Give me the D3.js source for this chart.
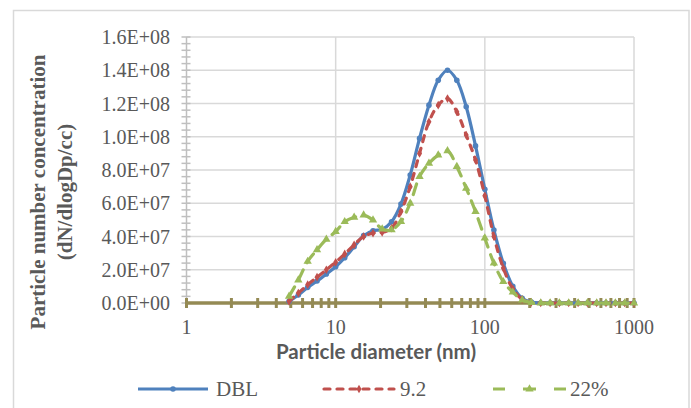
<!DOCTYPE html>
<html>
<head>
<meta charset="utf-8">
<script src="https://cdn.jsdelivr.net/npm/d3@7"></script>
<style>
  html, body { margin: 0; padding: 0; background: #fff; }
  svg { display: block; }
</style>
</head>
<body>
<svg id="chart" width="691" height="408"></svg>
<script>
// ---- data (values in particles/cc) ----
const diameters = [4.87, 5.62, 6.49, 7.50, 8.66, 10.0, 11.5, 13.3, 15.4, 17.8, 20.5, 23.7, 27.4, 31.6, 36.5, 42.2, 48.7, 56.2, 64.9, 75.0, 86.6, 100, 115, 133, 154, 178, 205, 237, 274, 316, 365, 422, 487, 562, 649, 750, 866, 1000];
const seriesNames = ["DBL", "9.2", "22%"];
const dblValues = [0.1, 0.48, 0.94, 1.32, 1.74, 2.18, 2.72, 3.39, 4.05, 4.35, 4.43, 4.89, 5.95, 7.7, 9.9, 11.9, 13.4, 14.0, 13.4, 11.8, 9.45, 6.84, 4.39, 2.39, 1.0, 0.28, 0.05, 0, 0, 0, 0, 0, 0, 0, 0, 0, 0, 0].map(v => v * 1e7);
const b92Values = [0.1, 0.6, 1.1, 1.55, 2.0, 2.45, 2.95, 3.5, 4.0, 4.2, 4.25, 4.5, 5.5, 7.0, 9.0, 10.9, 11.9, 12.3, 11.5, 10.1, 8.6, 6.45, 4.0, 2.1, 0.85, 0.22, 0.04, 0, 0, 0, 0, 0, 0, 0, 0, 0, 0, 0].map(v => v * 1e7);
const b22Values = [0.4, 1.38, 2.5, 3.2, 3.83, 4.29, 4.89, 5.15, 5.29, 4.99, 4.45, 4.4, 4.9, 6.0, 7.6, 8.4, 8.9, 9.15, 8.2, 6.9, 5.5, 3.9, 2.4, 1.28, 0.65, 0.18, 0.03, 0, 0, 0, 0, 0, 0, 0, 0, 0, 0, 0].map(v => v * 1e7);
const xTicks = [1, 10, 100, 1000];
const yTicks = [0, 2e7, 4e7, 6e7, 8e7, 1e8, 1.2e8, 1.4e8, 1.6e8];

// ---- layout ----
const svg = d3.select("#chart");
const pL = 186.5, pR = 634, pT = 37, pB = 303;
const x = d3.scaleLog().domain([1, 1000]).range([pL, pR]);
const y = d3.scaleLinear().domain([0, 1.6e8]).range([pB, pT]);

const colors = ["#4F81BD", "#C0504D", "#9BBB59"];
const serif = "'Liberation Serif', 'Times New Roman', serif";
const textGray = "#595959";

// chart border
svg.append("rect").attr("x", 13.5).attr("y", 10.5).attr("width", 675.5).attr("height", 410)
  .attr("fill", "none").attr("stroke", "#D9D9D9").attr("stroke-width", 1.5);

// horizontal gridlines
svg.append("g").selectAll("line").data(yTicks.filter(d => d > 0)).join("line")
  .attr("x1", pL).attr("x2", pR)
  .attr("y1", d => y(d)).attr("y2", d => y(d))
  .attr("stroke", "#D9D9D9").attr("stroke-width", 1.5);
// vertical gridlines
svg.append("g").selectAll("line").data(xTicks.filter(d => d > 1)).join("line")
  .attr("x1", d => x(d)).attr("x2", d => x(d))
  .attr("y1", pT).attr("y2", pB)
  .attr("stroke", "#D9D9D9").attr("stroke-width", 1.5);

// y axis line with minor cross ticks
const yMinor = d3.range(0, 1.6e8 + 1, 4e6);
svg.append("line").attr("x1", pL).attr("x2", pL).attr("y1", pT).attr("y2", pB)
  .attr("stroke", "#BFBFBF").attr("stroke-width", 1.5);
svg.append("g").selectAll("line").data(yMinor).join("line")
  .attr("x1", pL - 5).attr("x2", pL + 4)
  .attr("y1", d => y(d)).attr("y2", d => y(d))
  .attr("stroke", "#BFBFBF").attr("stroke-width", 1.5);

// y tick labels
function sci(v) {
  if (v === 0) return "0.0E+00";
  const e = Math.floor(Math.log10(v) + 1e-9);
  const m = v / Math.pow(10, e);
  return m.toFixed(1) + "E+" + String(e).padStart(2, "0");
}
svg.append("g").selectAll("text").data(yTicks).join("text")
  .attr("x", 170).attr("y", d => y(d)).attr("dy", "0.35em")
  .attr("text-anchor", "end")
  .attr("font-family", serif).attr("font-size", 20).attr("fill", textGray)
  .text(sci);

// x axis (olive, thick, with minor cross ticks)
const xMinor = [];
[1, 10, 100].forEach(dec => { for (let k = 1; k <= 9; k++) xMinor.push(dec * k); });
xMinor.push(1000);
svg.append("line").attr("x1", pL).attr("x2", pR).attr("y1", pB).attr("y2", pB)
  .attr("stroke", "#948A54").attr("stroke-width", 3.5);
svg.append("g").selectAll("line").data(xMinor).join("line")
  .attr("x1", d => x(d)).attr("x2", d => x(d))
  .attr("y1", pB - 5).attr("y2", pB + 5)
  .attr("stroke", "#948A54").attr("stroke-width", 3);

// x tick labels
svg.append("g").selectAll("text").data(xTicks).join("text")
  .attr("x", d => x(d)).attr("y", 334)
  .attr("text-anchor", "middle")
  .attr("font-family", serif).attr("font-size", 20).attr("fill", textGray)
  .text(d => String(d));

// axis titles
svg.append("text").attr("x", 376).attr("y", 359).attr("text-anchor", "middle")
  .attr("font-family", "Lato, 'Open Sans', sans-serif").attr("font-weight", "bold")
  .attr("font-size", 20.5).attr("fill", textGray).text("Particle diameter (nm)");
const yt = svg.append("text").attr("transform", "translate(38,192) rotate(-90)")
  .attr("text-anchor", "middle").attr("font-family", serif).attr("font-weight", "bold")
  .attr("font-size", 21).attr("fill", textGray);
yt.append("tspan").attr("x", 0).attr("dy", "0.35em").text("Particle number concentration");
yt.append("tspan").attr("x", 0).attr("dy", "1.25em").text("(dN/dlogDp/cc)");

// ---- series ----
const allValues = [dblValues, b92Values, b22Values];
const dashes = [null, "6,7", "11,8"];
const line = d3.line().x(d => x(d[0])).y(d => y(d[1])).curve(d3.curveCatmullRom.alpha(0.5));

function drawMarker(g, i, cx, cy) {
  if (i === 0) {
    g.append("circle").attr("cx", cx).attr("cy", cy).attr("r", 2.8).attr("fill", colors[0]);
  } else if (i === 1) {
    g.append("path").attr("d", d3.symbol(d3.symbolDiamond, 22)()).attr("transform", `translate(${cx},${cy})`).attr("fill", colors[1]);
  } else {
    g.append("path").attr("d", d3.symbol(d3.symbolTriangle, 30)()).attr("transform", `translate(${cx},${cy})`).attr("fill", colors[2]);
  }
}

allValues.forEach((vals, i) => {
  const pts = diameters.map((d, j) => [d, vals[j]]);
  const g = svg.append("g");
  g.append("path").attr("d", line(pts)).attr("fill", "none")
    .attr("stroke", colors[i]).attr("stroke-width", 3.2)
    .attr("stroke-linecap", i === 0 ? "butt" : "round")
    .attr("stroke-linejoin", "round")
    .attr("stroke-dasharray", dashes[i]);
  pts.forEach(p => drawMarker(g, i, x(p[0]), y(p[1])));
});

// ---- legend ----
const legendY = 389;
const legendItems = [
  { x1: 138, x2: 208, tx: 216, dash: null, cap: "butt" },
  { x1: 324, x2: 394, tx: 400, dash: "6,7", cap: "round" },
  { x1: 493, x2: 566, tx: 570, dash: "12,18,13,18,12", cap: "butt" }
];
legendItems.forEach((it, i) => {
  const g = svg.append("g");
  g.append("line").attr("x1", it.x1).attr("x2", it.x2).attr("y1", legendY).attr("y2", legendY)
    .attr("stroke", colors[i]).attr("stroke-width", 3.2)
    .attr("stroke-linecap", it.cap)
    .attr("stroke-dasharray", it.dash);
  drawMarker(g, i, (it.x1 + it.x2) / 2, legendY);
  g.append("text").attr("x", it.tx).attr("y", legendY).attr("dy", "0.35em")
    .attr("font-family", serif).attr("font-size", 21).attr("fill", textGray)
    .text(seriesNames[i]);
});
</script>
</body>
</html>
